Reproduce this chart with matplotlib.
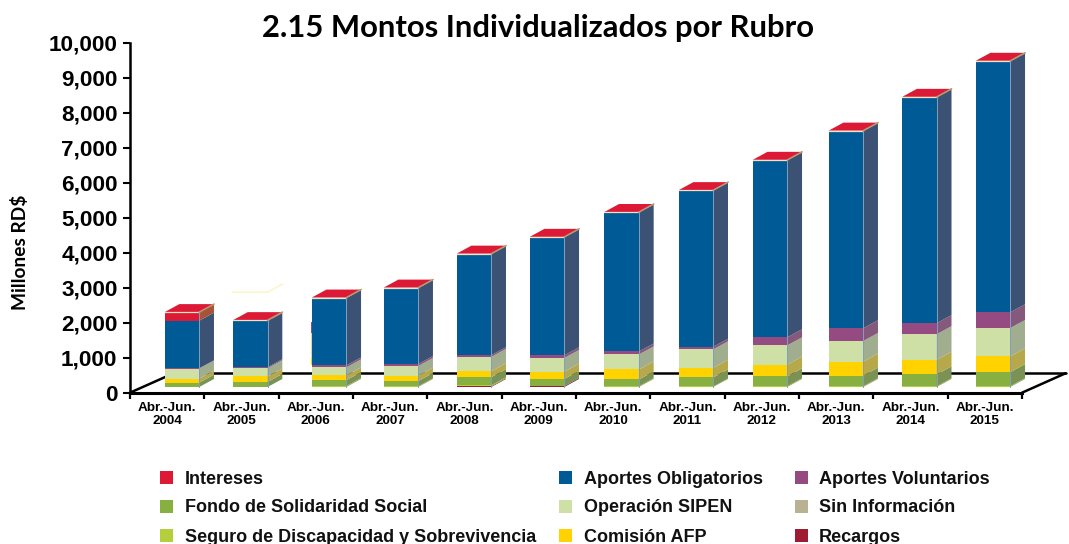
import matplotlib
matplotlib.use("Agg")
import matplotlib.pyplot as plt
from matplotlib.patches import Polygon, Rectangle

W, H = 1069, 544

years = ["2004", "2005", "2006", "2007", "2008", "2009",
         "2010", "2011", "2012", "2013", "2014", "2015"]

# Stacked values in millions RD$, bottom to top
recargos = [0, 0, 0, 0, 20, 30, 0, 0, 0, 0, 0, 0]
seguro = [0, 0, 30, 20, 30, 0, 25, 15, 25, 25, 25, 25]
fondo = [125, 145, 165, 150, 230, 200, 190, 260, 280, 300, 335, 400]
comision = [115, 155, 135, 155, 170, 210, 285, 275, 335, 400, 420, 450]
operacion = [285, 235, 230, 275, 410, 390, 430, 525, 550, 590, 730, 810]
voluntarios = [10, 30, 55, 55, 50, 75, 85, 75, 230, 365, 315, 450]
obligatorios = [1360, 1320, 1925, 2170, 2885, 3370, 3970, 4460, 5055, 5630, 6450, 7170]
intereses = [245, 25, 15, 15, 15, 15, 15, 15, 15, 15, 15, 15]

# Remains of hidden marks in the original chart
ghost_2005_top = 2870
ghost_2006 = [(790, 960, "#FFD200"), (960, 1700, "#CFE0A6"), (1700, 2020, "#954B82")]

stack = [
    (recargos, "#9E1B32", "#7E2A38"),
    (seguro, "#B5CE3C", "#94A848"),
    (fondo, "#88B040", "#7A9355"),
    (comision, "#FFD200", "#B8A84C"),
    (operacion, "#CFE0A6", "#A0AE8F"),
    (voluntarios, "#954B82", "#85597B"),
    (obligatorios, "#005A96", "#3B5274"),
    (intereses, "#DC1A35", "#A65339"),
]

legend_items = [
    ("Intereses", "#DC1A35", 160, 185, 477),
    ("Fondo de Solidaridad Social", "#88B040", 160, 185, 506),
    ("Seguro de Discapacidad y Sobrevivencia", "#B5CE3C", 160, 185, 535),
    ("Aportes Obligatorios", "#005A96", 559, 584, 477),
    ("Operación SIPEN", "#CFE0A6", 559, 584, 506),
    ("Comisión AFP", "#FFD200", 559, 584, 535),
    ("Aportes Voluntarios", "#954B82", 795, 819, 477),
    ("Sin Información", "#B9B292", 795, 819, 506),
    ("Recargos", "#9E1B32", 795, 819, 535),
]

# Layout in pixels of the picture
x0, x1, y0, y1 = 130, 1022, 392.7, 42.7
px_x = (len(years)) / (x1 - x0)
px_y = 10000 / (y0 - y1)
bar_w = 34.6 * px_x
side_dx, side_dy = 14.7 * px_x, 8 * px_y
floor_dx, floor_dy = 43.5 * px_x, 19.4 * px_y
bar_lift = 5.7 * px_y
bar_nudge = [14.8, 8.8, 13.2, 10.8, 9.5, 8.2, 8.5, 8.5, 8.2, 9.8, 9.0, 8.2]

plt.rcParams["font.family"] = ["Liberation Sans", "DejaVu Sans"]
fig = plt.figure(figsize=(W / 100, H / 100), dpi=100)
ax = fig.add_axes([x0 / W, 1 - y0 / H, (x1 - x0) / W, (y0 - y1) / H])
ax.set_xlim(-0.5, len(years) - 0.5)
ax.set_ylim(0, 10000)

# Floor of the 3D box
xl, xr = -0.5, len(years) - 0.5
floor_kw = dict(color="black", lw=1.8, clip_on=False, zorder=1, solid_capstyle="round")
ax.plot([xl, xl + floor_dx], [0, floor_dy], **floor_kw)
ax.plot([xl + floor_dx, xr + floor_dx], [floor_dy, floor_dy], **floor_kw)
ax.plot([xr, xr + floor_dx], [0, floor_dy], **floor_kw)

for i in range(len(years)):
    left = i - bar_w / 2 + bar_nudge[i] * px_x
    right = left + bar_w
    bottom = bar_lift
    for values, front, side in stack:
        v = values[i]
        if v == 0:
            continue
        top = bottom + v
        ax.add_patch(Rectangle((left, bottom), bar_w, v, fc=front, ec="none",
                               clip_on=False, zorder=3))
        ax.add_patch(Polygon([(right, bottom), (right + side_dx, bottom + side_dy),
                              (right + side_dx, top + side_dy), (right, top)],
                             fc=side, ec="none", clip_on=False, zorder=3))
        bottom = top
    # Top face, with the pale edge along its front and the tan one on its right side
    ax.add_patch(Polygon([(left, bottom), (left + side_dx, bottom + side_dy),
                          (right + side_dx, bottom + side_dy), (right, bottom)],
                         fc="#DC1A35", ec="none", clip_on=False, zorder=4))
    ax.plot([left, right], [bottom, bottom], color="#EFE3C0", lw=0.9,
            clip_on=False, zorder=5)
    ax.plot([right, right + side_dx], [bottom, bottom + side_dy], color="#B89A70", lw=1.1,
            clip_on=False, zorder=5)
    ax.plot([right, right], [bar_lift, bottom], color="#7F9FBF", lw=0.7,
            clip_on=False, zorder=5)

left_2005 = 1 - bar_w / 2 + bar_nudge[1] * px_x
ax.plot([left_2005, left_2005 + bar_w, left_2005 + bar_w + side_dx],
        [ghost_2005_top, ghost_2005_top, ghost_2005_top + side_dy],
        color="#FBF6C8", lw=1.2, clip_on=False, zorder=2)
left_2006 = 2 - bar_w / 2 + bar_nudge[2] * px_x
for low, high, color in ghost_2006:
    ax.add_patch(Rectangle((left_2006 - 1 * px_x, low), 1.5 * px_x, high - low, fc=color,
                           ec="none", clip_on=False, zorder=2))

# Axes
for s in ["top", "right"]:
    ax.spines[s].set_visible(False)
ax.spines["left"].set_linewidth(1.8)
ax.spines["bottom"].set_linewidth(2.2)
ax.patch.set_visible(False)
ax.set_yticks(range(0, 10001, 1000))
ax.set_yticklabels([f"{v:,}" for v in range(0, 10001, 1000)], fontsize=16.2, fontweight="bold")
ax.tick_params(axis="y", length=5, width=1.5, pad=4)
ax.set_xticks([i - 0.5 for i in range(len(years) + 1)])
ax.set_xticklabels([])
ax.tick_params(axis="x", which="major", length=4.5, width=1.6)
ax.set_xticks(range(len(years)), minor=True)
ax.set_xticklabels([f"Abr.-Jun.\n{y}" for y in years], minor=True, fontsize=9.7,
                   fontweight="bold", linespacing=1.1)
ax.tick_params(axis="x", which="minor", length=0, pad=6.5)

fig.text(538.5 / W, 1 - 37 / H, "2.15 Montos Individualizados por Rubro", ha="center",
         va="baseline", fontsize=22.3, fontweight="bold", family="Lato")
fig.text(20.5 / W, 1 - 252 / H, "Millones RD$", rotation=90, ha="center", va="center",
         fontsize=13.8, fontweight="bold", family="Lato")

for label, color, sx, tx, yc in legend_items:
    fig.add_artist(Rectangle((sx / W, 1 - (yc + 6.5) / H), 13 / W, 13 / H, fc=color, ec="none",
                             transform=fig.transFigure))
    fig.text(tx / W, 1 - yc / H, label, ha="left", va="center_baseline", fontsize=13,
             fontweight="bold", color="#111111")

fig.savefig("out.png", dpi=100)
